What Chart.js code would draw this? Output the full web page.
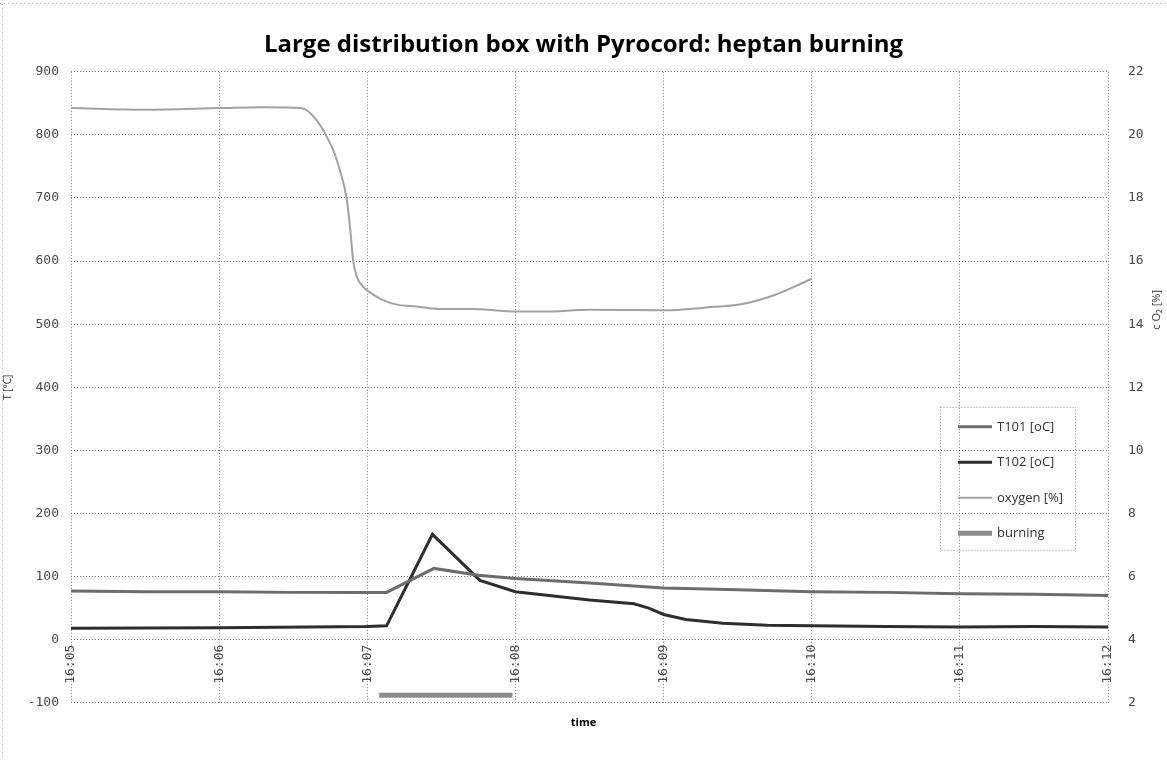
<!DOCTYPE html>
<html>
<head>
<meta charset="utf-8">
<title>Large distribution box with Pyrocord: heptan burning</title>
<script src="https://cdn.jsdelivr.net/npm/chart.js@4.4.1/dist/chart.umd.min.js"></script>
<style>
  html, body { margin: 0; padding: 0; background: #fff; }
</style>
</head>
<body>
<canvas id="chart" width="1167" height="760"></canvas>
<script>
// time is in minutes after 16:05
const timeLabels = ['16:05', '16:06', '16:07', '16:08', '16:09', '16:10', '16:11', '16:12'];

const t101Time = [0, 0.5, 1, 1.5, 2, 2.13, 2.45, 2.75, 3, 3.5, 4, 4.5, 5, 5.5, 6, 6.5, 7];
const t101Temp = [77, 76, 76, 75, 75, 75, 113, 102, 97, 90, 82, 79, 76, 75, 73, 72, 70];

const t102Time = [0, 1, 2, 2.13, 2.44, 2.76, 3, 3.5, 3.8, 3.9, 4, 4.15, 4.4, 4.7, 5, 5.5, 6, 6.5, 7];
const t102Temp = [18, 19, 21, 22, 167, 94, 76, 63, 57, 50, 40, 32, 26, 23, 22, 21, 20, 21, 20];

const oxygenTime = [0, 0.5, 1, 1.3, 1.55, 1.6, 1.66, 1.72, 1.78, 1.82, 1.86, 1.885, 1.905, 1.93, 1.97, 2.02, 2.1, 2.2, 2.33, 2.49, 2.71, 3, 3.19, 3.5, 4, 4.29, 4.52, 4.74, 5];
const oxygenPct = [20.85, 20.8, 20.85, 20.88, 20.85, 20.75, 20.45, 20.0, 19.4, 18.8, 18.0, 17.0, 16.0, 15.5, 15.2, 15.0, 14.78, 14.62, 14.56, 14.48, 14.48, 14.4, 14.4, 14.46, 14.44, 14.53, 14.63, 14.91, 15.44];

const burningTime = [2.08, 2.98];
const burningLevel = [-88, -88];

const toPoints = (xs, ys) => xs.map((x, i) => ({ x, y: ys[i] }));

const gridColor = '#7a7a7a';
const tickColor = '#4a4a4a';
const tickFont = { family: 'DejaVu Sans Mono', size: 13 };

// legend drawn inside the plot, at the right
const boxLegend = {
  id: 'boxLegend',
  afterDraw(chart) {
    const { ctx, chartArea } = chart;
    const x0 = chartArea.right - 168;
    const y0 = chartArea.top + 335;
    const w = 135, h = 143;
    ctx.save();
    ctx.strokeStyle = '#888';
    ctx.lineWidth = 1;
    ctx.setLineDash([1, 2]);
    ctx.strokeRect(x0 + 0.5, y0 + 0.5, w, h);
    ctx.setLineDash([]);
    ctx.font = '13px "Open Sans"';
    ctx.textBaseline = 'middle';
    chart.data.datasets.forEach((ds, i) => {
      const y = y0 + 20 + i * 35.5;
      ctx.strokeStyle = ds.borderColor;
      ctx.lineWidth = ds.borderWidth;
      ctx.beginPath();
      ctx.moveTo(x0 + 18, y);
      ctx.lineTo(x0 + 52, y);
      ctx.stroke();
      ctx.fillStyle = '#333';
      ctx.fillText(ds.label, x0 + 57, y);
    });
    ctx.restore();
  }
};

// right axis title reads bottom to top, placed above the middle as in the original
const rightTitle = {
  id: 'rightTitle',
  afterDraw(chart) {
    const { ctx, chartArea } = chart;
    ctx.save();
    ctx.translate(chartArea.right + 49, chartArea.top + 238);
    ctx.rotate(-Math.PI / 2);
    ctx.font = '11px "Open Sans"';
    ctx.fillStyle = '#333';
    ctx.textAlign = 'center';
    ctx.textBaseline = 'middle';
    ctx.fillText('c O\u2082 [%]', 0, 0);
    ctx.restore();
  }
};

const frame = {
  id: 'frame',
  beforeDraw(chart) {
    const { ctx, width, height } = chart;
    ctx.save();
    ctx.fillStyle = '#fff';
    ctx.fillRect(0, 0, width, height);
    ctx.strokeStyle = '#bbb';
    ctx.setLineDash([1, 3]);
    ctx.beginPath();
    ctx.moveTo(0, 3.5);
    ctx.lineTo(width, 3.5);
    ctx.moveTo(2.5, 0);
    ctx.lineTo(2.5, height);
    ctx.stroke();
    ctx.restore();
  }
};

new Chart(document.getElementById('chart').getContext('2d'), {
  type: 'line',
  data: {
    datasets: [{
      label: 'T101 [oC]',
      data: toPoints(t101Time, t101Temp),
      borderColor: '#6c6c6c',
      borderWidth: 3,
      yAxisID: 'y',
    }, {
      label: 'T102 [oC]',
      data: toPoints(t102Time, t102Temp),
      borderColor: '#2e2e2e',
      borderWidth: 3,
      yAxisID: 'y',
    }, {
      label: 'oxygen [%]',
      data: toPoints(oxygenTime, oxygenPct),
      borderColor: '#a2a2a2',
      borderWidth: 2,
      cubicInterpolationMode: 'monotone',
      yAxisID: 'y2',
    }, {
      label: 'burning',
      data: toPoints(burningTime, burningLevel),
      borderColor: '#8c8c8c',
      borderWidth: 5,
      yAxisID: 'y',
    }],
  },
  options: {
    responsive: false,
    animation: false,
    elements: { point: { radius: 0 }, line: { tension: 0 } },
    layout: { padding: 0 },
    plugins: {
      legend: { display: false },
      tooltip: { enabled: false },
      title: {
        display: true,
        text: 'Large distribution box with Pyrocord: heptan burning',
        color: '#000',
        font: { family: 'Open Sans', size: 24, weight: 'bold' },
        padding: { top: 31, bottom: 12 },
      },
      subtitle: {
        display: true,
        position: 'bottom',
        text: 'time',
        color: '#000',
        font: { family: 'Open Sans', size: 11, weight: 'bold' },
        padding: { top: 13, bottom: 31 },
      },
    },
    scales: {
      x: {
        type: 'linear',
        position: { y: 0 },
        min: 0,
        max: 7,
        grid: { color: gridColor, drawTicks: false },
        border: { display: false, dash: [1, 2] },
        ticks: {
          stepSize: 1,
          autoSkip: false,
          minRotation: 90,
          maxRotation: 90,
          padding: 5,
          color: tickColor,
          font: tickFont,
          callback: v => timeLabels[v],
        },
      },
      y: {
        position: 'left',
        min: -100,
        max: 900,
        afterFit: s => { s.width = 71; },
        grid: { color: gridColor, drawTicks: false },
        border: { display: false, dash: [1, 2] },
        ticks: { stepSize: 100, padding: 12, color: tickColor, font: tickFont },
        title: {
          display: true,
          text: 'T [°C]',
          color: '#333',
          font: { family: 'Open Sans', size: 10 },
          padding: { top: 2, bottom: 0 },
        },
      },
      y2: {
        position: 'right',
        min: 2,
        max: 22,
        afterFit: s => { s.width = 59; },
        grid: { drawOnChartArea: false, drawTicks: false },
        border: { display: false },
        ticks: { stepSize: 2, padding: 20, color: tickColor, font: tickFont },
      },
    },
  },
  plugins: [frame, boxLegend, rightTitle],
});
</script>
</body>
</html>
